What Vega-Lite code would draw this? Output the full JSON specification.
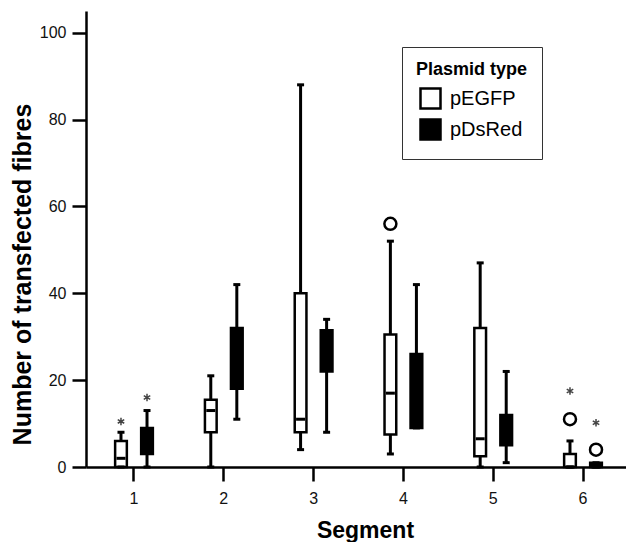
{
  "$schema": "https://vega.github.io/schema/vega-lite/v6.json",
  "autosize": {"type": "none"},
  "padding": {"left": 86, "top": 11, "right": 0, "bottom": 75},
  "width": 540,
  "height": 456,
  "background": "white",
  "config": {"view": {"stroke": null}, "font": "Liberation Sans", "axis": {"grid": false}},
  "datasets": {
    "stats": [
      {"segment": 1, "plasmid": "pEGFP", "min": 0, "q1": 0, "median": 2, "q3": 6, "max": 8},
      {"segment": 1, "plasmid": "pDsRed", "min": 0, "q1": 3, "median": 6, "q3": 9, "max": 13},
      {"segment": 2, "plasmid": "pEGFP", "min": 0, "q1": 8, "median": 13, "q3": 15.5, "max": 21},
      {"segment": 2, "plasmid": "pDsRed", "min": 11, "q1": 18, "median": 25, "q3": 32, "max": 42},
      {"segment": 3, "plasmid": "pEGFP", "min": 4, "q1": 8, "median": 11, "q3": 40, "max": 88},
      {"segment": 3, "plasmid": "pDsRed", "min": 8, "q1": 22, "median": 27, "q3": 31.5, "max": 34},
      {"segment": 4, "plasmid": "pEGFP", "min": 3, "q1": 7.5, "median": 17, "q3": 30.5, "max": 52},
      {"segment": 4, "plasmid": "pDsRed", "min": 9, "q1": 9, "median": 20, "q3": 26, "max": 42},
      {"segment": 5, "plasmid": "pEGFP", "min": 0, "q1": 2.5, "median": 6.5, "q3": 32, "max": 47},
      {"segment": 5, "plasmid": "pDsRed", "min": 1, "q1": 5, "median": 8, "q3": 12, "max": 22},
      {"segment": 6, "plasmid": "pEGFP", "min": 0, "q1": 0, "median": 0, "q3": 3, "max": 6},
      {"segment": 6, "plasmid": "pDsRed", "min": 0, "q1": 0, "median": 0, "q3": 1, "max": 1}
    ],
    "outliers": [
      {"segment": 1, "plasmid": "pEGFP", "value": 10.5, "kind": "extreme"},
      {"segment": 1, "plasmid": "pDsRed", "value": 16, "kind": "extreme"},
      {"segment": 4, "plasmid": "pEGFP", "value": 56, "kind": "outlier"},
      {"segment": 6, "plasmid": "pEGFP", "value": 11, "kind": "outlier"},
      {"segment": 6, "plasmid": "pEGFP", "value": 17.5, "kind": "extreme"},
      {"segment": 6, "plasmid": "pDsRed", "value": 4, "kind": "outlier"},
      {"segment": 6, "plasmid": "pDsRed", "value": 10.2, "kind": "extreme"}
    ]
  },
  "data": {"name": "stats"},
  "encoding": {
    "x": {
      "field": "segment",
      "type": "ordinal",
      "scale": {"type": "band", "range": [0, 545], "paddingInner": 0, "paddingOuter": 0.0345},
      "axis": {
        "title": "Segment",
        "labelAngle": 0,
        "labelFontSize": 16,
        "labelColor": "#111",
        "labelPadding": 9,
        "tickSize": 14,
        "tickWidth": 2.5,
        "tickColor": "black",
        "domainColor": "black",
        "domainWidth": 2.5,
        "titleFontSize": 23,
        "titleFontWeight": "bold",
        "titleColor": "black",
        "titleX": 279,
        "titleY": 70,
        "titleBaseline": "alphabetic",
        "titleAlign": "center"
      }
    },
    "xOffset": {
      "field": "plasmid",
      "type": "nominal",
      "scale": {"domain": ["pEGFP", "pDsRed"], "paddingInner": 0.55, "paddingOuter": 1.52}
    }
  },
  "layer": [
    {
      "mark": {"type": "rule", "color": "black", "strokeWidth": 3},
      "encoding": {
        "y": {
          "field": "min",
          "type": "quantitative",
          "scale": {"domain": [0, 105], "nice": false, "zero": true},
          "axis": {
            "title": "Number of transfected fibres",
            "values": [0, 20, 40, 60, 80, 100],
            "labelFontSize": 16,
            "labelColor": "#111",
            "labelPadding": 6,
            "tickSize": 14,
            "tickWidth": 2.5,
            "tickColor": "black",
            "domainColor": "black",
            "domainWidth": 2.5,
            "titleFontSize": 25,
            "titleFontWeight": "bold",
            "titleColor": "black",
            "titleAngle": -90,
            "titleX": -55.5,
            "titleY": 263,
            "titleBaseline": "alphabetic",
            "titleAlign": "center"
          }
        },
        "y2": {"field": "max"}
      }
    },
    {
      "mark": {"type": "bar", "stroke": "black", "strokeWidth": 2.5},
      "encoding": {
        "y": {"field": "q1", "type": "quantitative"},
        "y2": {"field": "q3"},
        "fill": {
          "field": "plasmid",
          "type": "nominal",
          "scale": {"domain": ["pEGFP", "pDsRed"], "range": ["white", "black"]},
          "legend": {
            "orient": "none",
            "legendX": 316,
            "legendY": 36,
            "title": "Plasmid type",
            "titleFontSize": 18,
            "titleFontWeight": "bold",
            "titleColor": "black",
            "titlePadding": 8,
            "labelFontSize": 20,
            "labelColor": "black",
            "labelOffset": 8,
            "symbolType": "square",
            "symbolSize": 400,
            "symbolStrokeColor": "black",
            "symbolStrokeWidth": 2.5,
            "symbolOffset": 3,
            "rowPadding": 0,
            "padding": 14,
            "strokeColor": "#333",
            "fillColor": "white"
          }
        }
      }
    },
    {
      "mark": {"type": "tick", "color": "black", "opacity": 1, "thickness": 3, "size": 9},
      "encoding": {"y": {"field": "median", "type": "quantitative"}}
    },
    {
      "mark": {"type": "tick", "color": "black", "opacity": 1, "thickness": 3, "size": 7},
      "encoding": {"y": {"field": "max", "type": "quantitative"}}
    },
    {
      "mark": {"type": "tick", "color": "black", "opacity": 1, "thickness": 3, "size": 7},
      "encoding": {"y": {"field": "min", "type": "quantitative"}}
    },
    {
      "data": {"name": "outliers"},
      "transform": [{"filter": "datum.kind == 'outlier'"}],
      "mark": {"type": "point", "shape": "circle", "size": 144, "filled": false, "stroke": "black", "strokeWidth": 2.5, "opacity": 1},
      "encoding": {"y": {"field": "value", "type": "quantitative"}}
    },
    {
      "data": {"name": "outliers"},
      "transform": [{"filter": "datum.kind == 'extreme'"}],
      "mark": {"type": "point", "shape": "M0,-1L0,1M-0.87,-0.5L0.87,0.5M-0.87,0.5L0.87,-0.5", "size": 56, "filled": false, "stroke": "#444", "strokeWidth": 1.5, "opacity": 1},
      "encoding": {"y": {"field": "value", "type": "quantitative"}}
    }
  ]
}
